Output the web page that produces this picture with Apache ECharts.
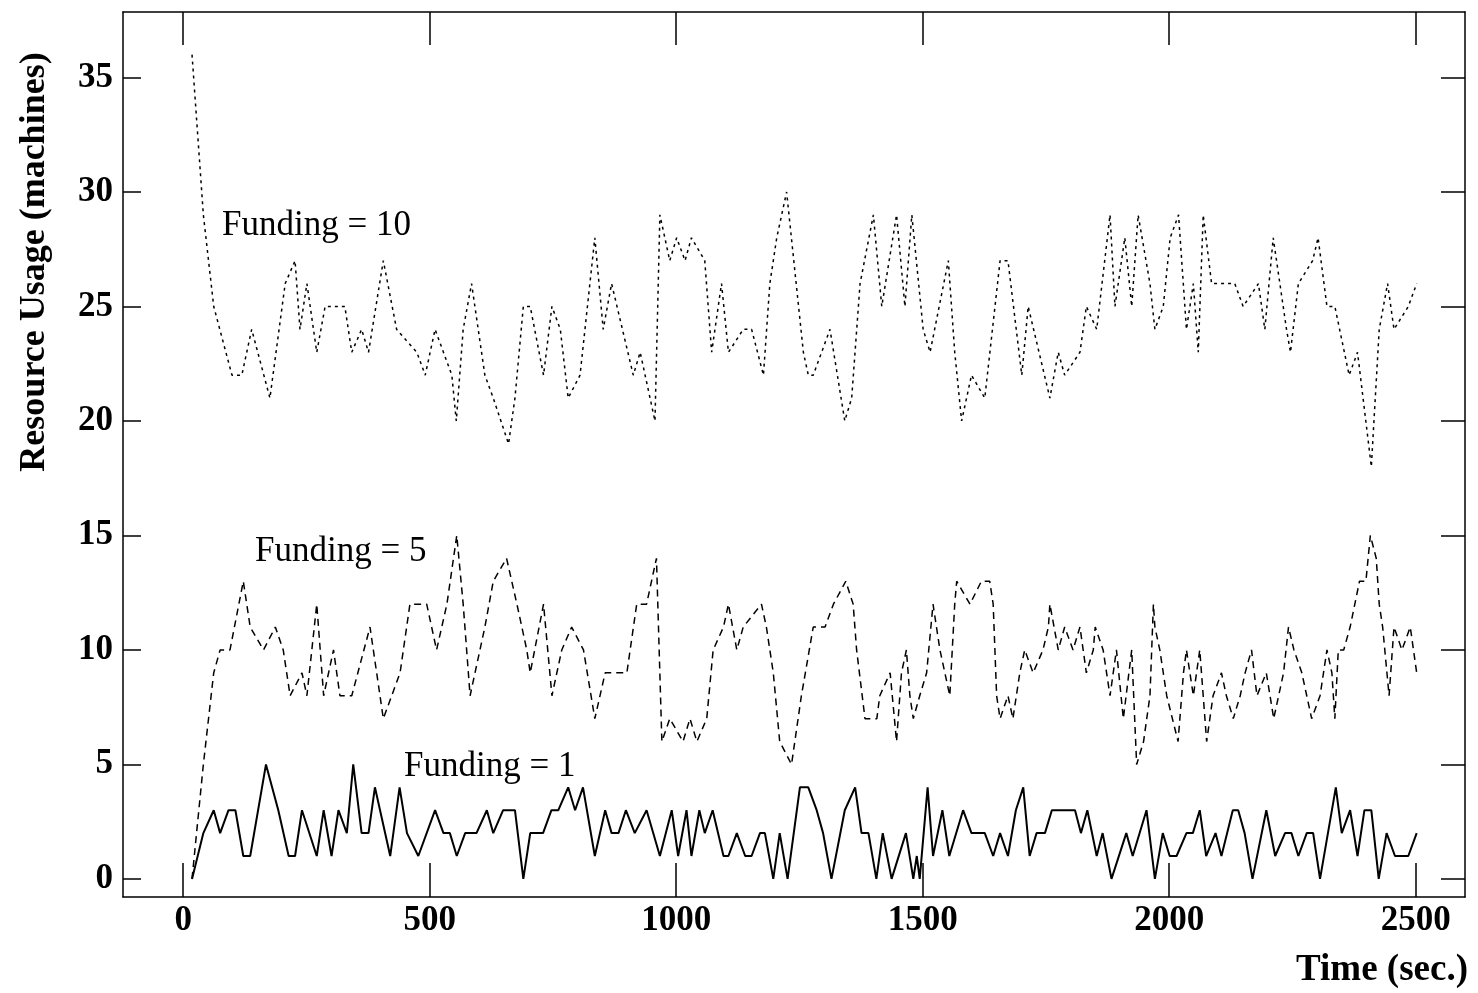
<!DOCTYPE html>
<html>
<head>
<meta charset="utf-8">
<script src="https://cdn.jsdelivr.net/npm/echarts@6/dist/echarts.min.js"></script>
<style>
  html, body { margin: 0; padding: 0; background: #fff; }
  #main { width: 1478px; height: 993px; }
</style>
</head>
<body>
<div id="main"></div>
<script>
// tick labels
var xTicks = [0, 500, 1000, 1500, 2000, 2500];
var yTicks = [0, 5, 10, 15, 20, 25, 30, 35];

// Funding = 10 (dotted)
var f10Time = [18, 41, 62, 99, 119, 139, 176, 207, 227, 237, 251, 271, 288, 328, 342, 362, 376, 406, 433, 474, 491, 511, 545, 554, 568, 585, 612, 629, 660, 673, 690, 704, 731, 748, 765, 781, 805, 825, 835, 852, 869, 913, 927, 957, 967, 987, 1001, 1018, 1031, 1058, 1072, 1092, 1106, 1136, 1153, 1177, 1190, 1204, 1224, 1258, 1268, 1278, 1312, 1342, 1356, 1373, 1400, 1417, 1447, 1464, 1478, 1501, 1515, 1552, 1565, 1579, 1599, 1626, 1657, 1673, 1701, 1714, 1758, 1775, 1788, 1819, 1832, 1853, 1880, 1890, 1910, 1924, 1937, 1961, 1971, 1988, 2002, 2019, 2035, 2049, 2059, 2069, 2086, 2116, 2133, 2150, 2181, 2194, 2211, 2238, 2246, 2262, 2291, 2302, 2320, 2336, 2365, 2382, 2410, 2426, 2443, 2456, 2485, 2502];
var f10Usage = [36, 29, 25, 22, 22, 24, 21, 26, 27, 24, 26, 23, 25, 25, 23, 24, 23, 27, 24, 23, 22, 24, 22, 20, 24, 26, 22, 21, 19, 21, 25, 25, 22, 25, 24, 21, 22, 26, 28, 24, 26, 22, 23, 20, 29, 27, 28, 27, 28, 27, 23, 26, 23, 24, 24, 22, 26, 28, 30, 23, 22, 22, 24, 20, 21, 26, 29, 25, 29, 25, 29, 24, 23, 27, 23, 20, 22, 21, 27, 27, 22, 25, 21, 23, 22, 23, 25, 24, 29, 25, 28, 25, 29, 26, 24, 25, 28, 29, 24, 26, 23, 29, 26, 26, 26, 25, 26, 24, 28, 24, 23, 26, 27, 28, 25, 25, 22, 23, 18, 24, 26, 24, 25, 26];

// Funding = 5 (dashed)
var f5Time = [18, 41, 62, 75, 95, 122, 136, 163, 187, 203, 217, 241, 251, 271, 285, 305, 318, 342, 379, 406, 440, 460, 494, 514, 535, 555, 568, 582, 612, 629, 656, 677, 697, 704, 731, 748, 768, 788, 812, 835, 856, 900, 920, 940, 960, 971, 987, 1014, 1028, 1042, 1062, 1075, 1096, 1106, 1123, 1136, 1173, 1183, 1197, 1210, 1234, 1254, 1278, 1302, 1319, 1344, 1359, 1366, 1383, 1407, 1413, 1434, 1447, 1457, 1467, 1474, 1481, 1494, 1508, 1521, 1535, 1555, 1565, 1569, 1596, 1619, 1636, 1643, 1650, 1657, 1673, 1683, 1697, 1707, 1724, 1744, 1755, 1758, 1775, 1788, 1805, 1819, 1832, 1846, 1850, 1866, 1880, 1893, 1907, 1924, 1934, 1948, 1961, 1968, 1971, 1981, 1995, 2018, 2029, 2035, 2049, 2062, 2076, 2089, 2106, 2116, 2130, 2144, 2154, 2167, 2178, 2197, 2212, 2232, 2242, 2253, 2269, 2279, 2289, 2306, 2320, 2330, 2336, 2343, 2354, 2367, 2386, 2399, 2408, 2420, 2426, 2433, 2446, 2456, 2472, 2489, 2502];
var f5Usage = [0, 5, 9, 10, 10, 13, 11, 10, 11, 10, 8, 9, 8, 12, 8, 10, 8, 8, 11, 7, 9, 12, 12, 10, 12, 15, 12, 8, 11, 13, 14, 12, 10, 9, 12, 8, 10, 11, 10, 7, 9, 9, 12, 12, 14, 6, 7, 6, 7, 6, 7, 10, 11, 12, 10, 11, 12, 11, 9, 6, 5, 8, 11, 11, 12, 13, 12, 10, 7, 7, 8, 9, 6, 9, 10, 8, 7, 8, 9, 12, 10, 8, 12, 13, 12, 13, 13, 12, 8, 7, 8, 7, 9, 10, 9, 10, 11, 12, 10, 11, 10, 11, 9, 10, 11, 10, 8, 10, 7, 10, 5, 6, 8, 12, 11, 10, 8, 6, 9, 10, 8, 10, 6, 8, 9, 8, 7, 8, 9, 10, 8, 9, 7, 9, 11, 10, 9, 8, 7, 8, 10, 9, 7, 10, 10, 11, 13, 13, 15, 14, 12, 11, 8, 11, 10, 11, 9];

// Funding = 1 (solid)
var f1Time = [18, 41, 62, 75, 92, 106, 122, 136, 168, 193, 214, 227, 241, 271, 285, 301, 315, 332, 345, 362, 376, 389, 420, 439, 454, 477, 511, 528, 541, 555, 572, 595, 616, 629, 649, 673, 690, 704, 730, 747, 761, 781, 795, 811, 835, 856, 869, 883, 898, 916, 940, 967, 991, 1004, 1021, 1031, 1047, 1058, 1074, 1096, 1106, 1123, 1140, 1153, 1170, 1180, 1197, 1210, 1226, 1251, 1268, 1285, 1298, 1315, 1342, 1363, 1376, 1390, 1406, 1419, 1437, 1466, 1481, 1488, 1494, 1510, 1521, 1540, 1554, 1582, 1599, 1626, 1643, 1657, 1673, 1689, 1704, 1717, 1731, 1748, 1762, 1809, 1821, 1834, 1853, 1865, 1883, 1913, 1926, 1954, 1971, 1987, 2001, 2015, 2035, 2048, 2062, 2075, 2094, 2106, 2129, 2140, 2153, 2169, 2197, 2215, 2235, 2248, 2262, 2279, 2292, 2306, 2338, 2350, 2367, 2382, 2396, 2410, 2425, 2441, 2458, 2485, 2502];
var f1Usage = [0, 2, 3, 2, 3, 3, 1, 1, 5, 3, 1, 1, 3, 1, 3, 1, 3, 2, 5, 2, 2, 4, 1, 4, 2, 1, 3, 2, 2, 1, 2, 2, 3, 2, 3, 3, 0, 2, 2, 3, 3, 4, 3, 4, 1, 3, 2, 2, 3, 2, 3, 1, 3, 1, 3, 1, 3, 2, 3, 1, 1, 2, 1, 1, 2, 2, 0, 2, 0, 4, 4, 3, 2, 0, 3, 4, 2, 2, 0, 2, 0, 2, 0, 1, 0, 4, 1, 3, 1, 3, 2, 2, 1, 2, 1, 3, 4, 1, 2, 2, 3, 3, 2, 3, 1, 2, 0, 2, 1, 3, 0, 2, 1, 1, 2, 2, 3, 1, 2, 1, 3, 3, 2, 0, 3, 1, 2, 2, 1, 2, 2, 0, 4, 2, 3, 1, 3, 3, 0, 2, 1, 1, 2];

function pairs(t, v) {
  return t.map(function (x, i) { return [x, v[i]]; });
}

var serif = '"Liberation Serif", "DejaVu Serif", serif';
var chart = echarts.init(document.getElementById('main'));

var frame = { color: '#000', width: 1.5 };
var tickLabel = {
  color: '#000', fontFamily: serif, fontSize: 35, fontWeight: 'bold',
  formatter: function (v) { return String(v); }
};

var option = {
  animation: false,
  backgroundColor: '#fff',
  grid: { left: 123, right: 13, top: 12, bottom: 96, containLabel: false },
  xAxis: [
    {
      type: 'value', min: -122, max: 2600,
      axisLine: { onZero: false, lineStyle: frame },
      axisTick: { inside: true, length: 34, customValues: xTicks, lineStyle: frame },
      axisLabel: Object.assign({ customValues: xTicks, margin: 6 }, tickLabel),
      splitLine: { show: false }
    },
    {
      type: 'value', min: -122, max: 2600, position: 'top',
      axisLine: { show: true, onZero: false, lineStyle: frame },
      axisTick: { inside: true, length: 33, customValues: xTicks, lineStyle: frame },
      axisLabel: { show: false },
      splitLine: { show: false }
    }
  ],
  yAxis: [
    {
      type: 'value', min: -0.79, max: 37.86,
      axisLine: { show: true, onZero: false, lineStyle: frame },
      axisTick: { show: true, inside: true, length: 18, customValues: yTicks, lineStyle: frame },
      axisLabel: Object.assign({ customValues: yTicks, margin: 10 }, tickLabel),
      splitLine: { show: false }
    },
    {
      type: 'value', min: -0.79, max: 37.86, position: 'right',
      axisLine: { show: true, onZero: false, lineStyle: frame },
      axisTick: { show: true, inside: true, length: 24, customValues: yTicks, lineStyle: frame },
      axisLabel: { show: false },
      splitLine: { show: false }
    }
  ],
  series: [
    {
      name: 'Funding = 10', type: 'line', data: pairs(f10Time, f10Usage),
      showSymbol: false, symbol: 'none',
      lineStyle: { color: '#000', width: 1.5, type: [3, 4] }
    },
    {
      name: 'Funding = 5', type: 'line', data: pairs(f5Time, f5Usage),
      showSymbol: false, symbol: 'none',
      lineStyle: { color: '#000', width: 1.5, type: [7, 5] }
    },
    {
      name: 'Funding = 1', type: 'line', data: pairs(f1Time, f1Usage),
      showSymbol: false, symbol: 'none',
      lineStyle: { color: '#000', width: 2 }
    }
  ],
  graphic: [
    {
      type: 'text', x: 35, y: 262, rotation: Math.PI / 2,
      style: { text: 'Resource Usage (machines)', font: 'bold 36px ' + serif, fill: '#000', textAlign: 'center', textVerticalAlign: 'middle' }
    },
    {
      type: 'text', x: 1468, y: 970,
      style: { text: 'Time (sec.)', font: 'bold 37px ' + serif, fill: '#000', textAlign: 'right', textVerticalAlign: 'middle' }
    },
    {
      type: 'text', x: 222, y: 226,
      style: { text: 'Funding = 10', font: '35px ' + serif, fill: '#000', textAlign: 'left', textVerticalAlign: 'middle' }
    },
    {
      type: 'text', x: 255, y: 552,
      style: { text: 'Funding = 5', font: '35px ' + serif, fill: '#000', textAlign: 'left', textVerticalAlign: 'middle' }
    },
    {
      type: 'text', x: 404, y: 767,
      style: { text: 'Funding = 1', font: '35px ' + serif, fill: '#000', textAlign: 'left', textVerticalAlign: 'middle' }
    }
  ]
};

chart.setOption(option);
</script>
</body>
</html>
